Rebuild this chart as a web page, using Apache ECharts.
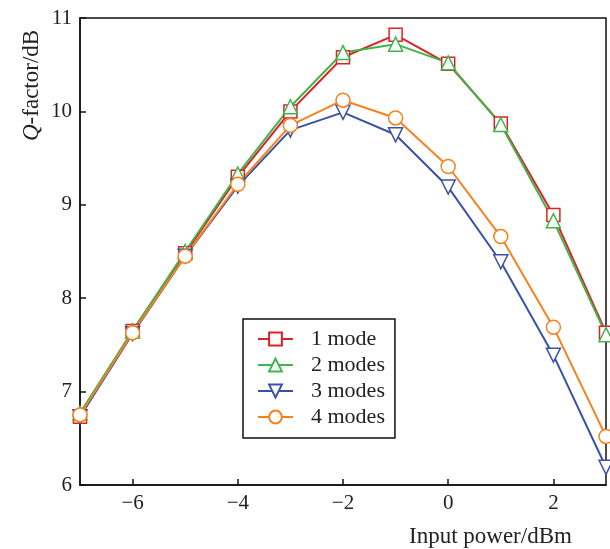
<!DOCTYPE html>
<html><head><meta charset="utf-8">
<script src="https://cdn.jsdelivr.net/npm/echarts@6/dist/echarts.min.js"></script>
<style>html,body{margin:0;padding:0;background:#fff}#c{width:610px;height:549px}</style>
</head><body><div id="c"></div>
<script>
const xValues = [-7, -6, -5, -4, -3, -2, -1, 0, 1, 2, 3];
const seriesNames = ['1 mode', '2 modes', '3 modes', '4 modes'];
const mode1 = [6.73, 7.65, 8.48, 9.30, 10.00, 10.58, 10.82, 10.51, 9.87, 8.89, 7.63];
const mode2 = [6.77, 7.65, 8.50, 9.33, 10.05, 10.63, 10.72, 10.52, 9.86, 8.83, 7.61];
const mode3 = [6.73, 7.62, 8.45, 9.20, 9.80, 9.99, 9.75, 9.19, 8.39, 7.39, 6.19];
const mode4 = [6.75, 7.63, 8.45, 9.22, 9.85, 10.12, 9.93, 9.41, 8.66, 7.69, 6.52];
const xTicks = [-6, -4, -2, 0, 2];
const yTicks = [6, 7, 8, 9, 10, 11];

const colors = ['#dc2229', '#3fb54b', '#3a52a3', '#f5821f'];
const symbols = ['rect', 'triangle', 'path://M0,0 L10,0 L5,9 Z', 'circle'];
const symbolSizes = [13, 14, 14, 14];
const allData = [mode1, mode2, mode3, mode4];
const font = '"Liberation Serif", "Times New Roman", serif';

const chart = echarts.init(document.getElementById('c'));
chart.setOption({
  animation: false,
  backgroundColor: '#fff',
  grid: { left: 80, right: 4, top: 18, bottom: 64, show: true, borderColor: '#111', borderWidth: 1.5 },
  xAxis: {
    type: 'value', min: -7, max: 3,
    axisLine: { onZero: false, lineStyle: { color: '#111', width: 1.5 } },
    axisTick: { inside: true, length: 6, customValues: xTicks, lineStyle: { color: '#111', width: 1.5 } },
    axisLabel: { customValues: xTicks, margin: 8, color: '#222', fontFamily: font, fontSize: 21,
      formatter: v => String(v).replace('-', '\u2212') },
    splitLine: { show: false }
  },
  yAxis: {
    type: 'value', min: 6, max: 11, interval: 1,
    axisLine: { onZero: false, lineStyle: { color: '#111', width: 1.5 } },
    axisTick: { inside: true, length: 6, customValues: yTicks, lineStyle: { color: '#111', width: 1.5 } },
    axisLabel: { customValues: yTicks, margin: 8, color: '#222', fontFamily: font, fontSize: 21 },
    splitLine: { show: false }
  },
  legend: {
    orient: 'vertical', left: 243, top: 319,
    backgroundColor: '#fff', borderColor: '#111', borderWidth: 1.5,
    padding: [9, 10, 10, 14],
    itemWidth: 35, itemHeight: 16, itemGap: 4,
    textStyle: { fontFamily: font, fontSize: 22, color: '#222', lineHeight: 22, padding: [0, 0, 0, 13] },
    data: seriesNames
  },
  graphic: [
    { type: 'text', left: 409, top: 525,
      style: { text: 'Input power/dBm', font: '23px ' + font, fill: '#222' } },
    { type: 'text', x: 20, y: 141, rotation: Math.PI / 2,
      style: { text: '{i|Q}-factor/dB', font: '23px ' + font, fill: '#222',
        rich: { i: { fontStyle: 'italic', fontFamily: font, fontSize: 23, fill: '#222' } } } }
  ],
  series: allData.map((d, i) => ({
    name: seriesNames[i], type: 'line',
    data: xValues.map((x, j) => [x, d[j]]),
    symbol: symbols[i], symbolSize: symbolSizes[i],
    showAllSymbol: true, clip: false,
    lineStyle: { color: colors[i], width: 2 },
    itemStyle: { color: '#fff', borderColor: colors[i], borderWidth: 1.5 },
    emphasis: { disabled: true }
  }))
});
</script></body></html>
